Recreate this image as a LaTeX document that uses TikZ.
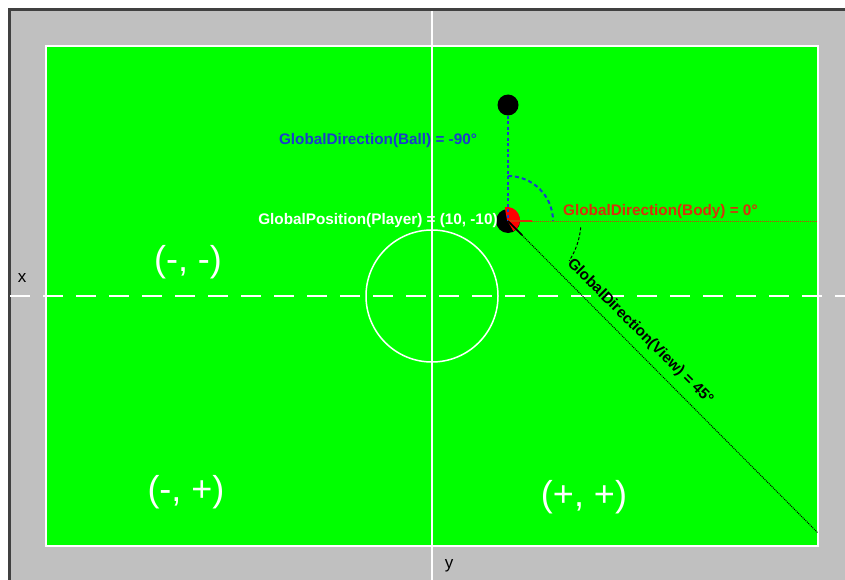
\documentclass[tikz,border=0pt]{standalone}
\usepackage{fontspec}
\setmainfont{Liberation Sans}
\usetikzlibrary{calc}
\definecolor{fieldgreen}{HTML}{00FF00}
\definecolor{framegray}{HTML}{C0C0C0}
\definecolor{ballblue}{HTML}{1A3DCC}
\definecolor{bodyred}{HTML}{D8300C}

\begin{document}
\begin{tikzpicture}[x=1pt,y=-1pt,
    lbl/.style={font=\fontsize{15.3}{17}\selectfont\bfseries,inner sep=0pt},
    quad/.style={text=white,font=\fontsize{36}{40}\selectfont,inner sep=0pt},
    axis/.style={font=\fontsize{17}{19}\selectfont,inner sep=0pt}]
  \useasboundingbox (0,0) rectangle (845,580);
  \fill[framegray] (8,8) rectangle (845,580);
  \draw[line width=3pt,black!75] (9.5,580) -- (9.5,9.5) -- (845,9.5);
  \fill[fieldgreen] (46,46) rectangle (818,546);
  \draw[white,line width=1.5pt] (46,46) rectangle (818,546);
  \draw[white,line width=2pt] (432,11) -- (432,580);
  \draw[white,line width=2.5pt,dash pattern=on 20pt off 13pt] (10,296) -- (845,296);
  \draw[white,line width=1.5pt] (432,296) circle (66pt);

  \node[axis] (xlbl) at (22,278) {x};
  \node[axis] (ylbl) at (449,566) {y};
  \node[quad] (mm) at (188,262) {(-, -)};
  \node[quad] (mp) at (186,492) {(-, +)};
  \node[quad] (pp) at (584,497) {(+, +)};

  \node[circle,fill=black,minimum size=24pt,inner sep=0pt] (player) at (508,221) {};
  \fill[red] ([shift={(-1pt,1pt)}]player.center) -- ++(-60:13pt) arc[start angle=-60,end angle=100,radius=13pt] -- cycle;
  \node[circle,fill=black,minimum size=21pt,inner sep=0pt] (ball) at (508,105) {};
  \coordinate (bodyend) at (818,221);
  \coordinate (viewend) at (818,533);

  \draw[ballblue,line width=1.5pt,dash pattern=on 3pt off 2.5pt] (ball) -- (player.center);
  \draw[ballblue,line width=2pt,dash pattern=on 4pt off 3pt] ([shift={(90:45pt)}]player.center) arc[start angle=90,end angle=0,radius=45pt];
  \draw[bodyred,line width=1.5pt] (player.center) -- ++(24pt,0);
  \draw[bodyred,line width=1pt,densely dotted] (player.center) -- (bodyend);
  \draw[line width=1.5pt] (player.center) -- ++(-45:20pt);
  \draw[line width=1pt,densely dotted] (player.center) -- (viewend);
  \draw[line width=1pt,densely dashed] ([shift={(-5:73pt)}]player.center) arc[start angle=-5,end angle=-33,radius=73pt];

  \node[lbl,text=ballblue] (balllbl) at (378,141) {GlobalDirection(Ball) = -90°};
  \node[lbl,text=white,anchor=east] (poslbl) at ([xshift=2pt]player.west) {GlobalPosition(Player) = (10, -10)};
  \node[lbl,text=bodyred,anchor=west] (bodylbl) at (563,212) {GlobalDirection(Body) = 0°};
  \node[lbl,rotate=-45] (viewlbl) at (640,332) {GlobalDirection(View) = 45°};
\end{tikzpicture}
\end{document}
